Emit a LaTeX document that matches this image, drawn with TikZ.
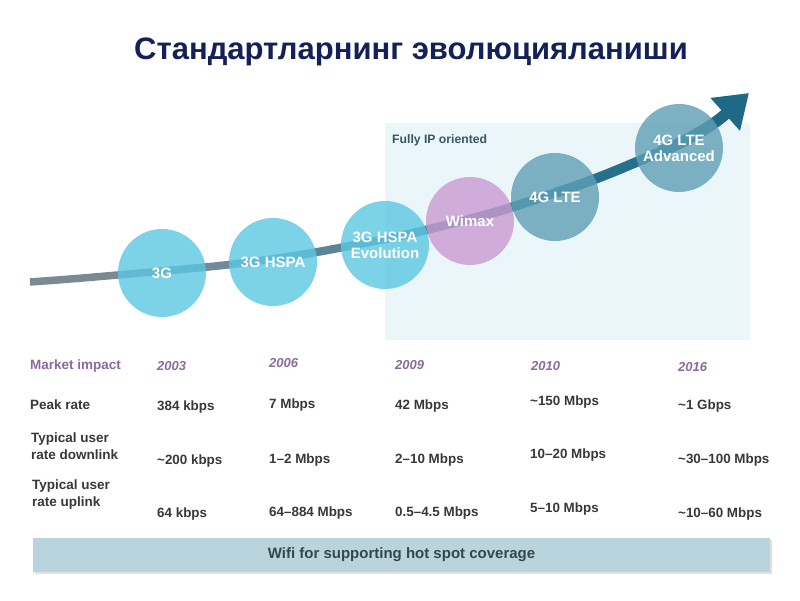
\documentclass[tikz,border=0pt]{standalone}
\usepackage{fontspec}
\setmainfont{Liberation Sans}
\usetikzlibrary{arrows.meta}
\definecolor{titlecol}{HTML}{14205A}
\definecolor{ipbg}{HTML}{EAF6FA}
\definecolor{iptext}{HTML}{3D5560}
\definecolor{c3g}{HTML}{5CC7E2}
\definecolor{cwimax}{HTML}{C99AD2}
\definecolor{c4g}{HTML}{5E9FB5}
\definecolor{purp}{HTML}{8A6C9C}
\definecolor{valcol}{HTML}{383838}
\definecolor{barcol}{HTML}{B9D4DD}
\definecolor{bartext}{HTML}{36464C}
\definecolor{sa}{HTML}{7A8A93}
\definecolor{sb}{HTML}{6F8A98}
\definecolor{sc}{HTML}{5C8697}
\definecolor{sd}{HTML}{4A7F96}
\definecolor{se}{HTML}{357890}
\definecolor{sf}{HTML}{27708B}
\definecolor{sg}{HTML}{1E6986}
\begin{document}
\begin{tikzpicture}[x=1pt,y=1pt,
  titlestyle/.style={font=\fontsize{31}{36}\selectfont\bfseries, text=titlecol, inner sep=0},
  circ/.style={circle, minimum size=88pt, inner sep=0, fill opacity=0.8, text opacity=1, text=white, align=center, font=\fontsize{15}{16}\selectfont\bfseries},
  seg/.style={line cap=butt},
  rowlab/.style={anchor=west, inner sep=0, text=valcol, align=left, font=\fontsize{13.5}{17}\selectfont\bfseries},
  yearlab/.style={anchor=west, inner sep=0, text=purp, font=\fontsize{13}{15}\selectfont\bfseries\itshape},
  val/.style={anchor=west, inner sep=0, text=valcol, font=\fontsize{13.4}{15}\selectfont\bfseries}]
\useasboundingbox (0,0) rectangle (800,600);
\fill[white] (0,0) rectangle (800,600);
\node[titlestyle] (title) at (411,548) {Стандартларнинг эволюцияланиши};
\fill[ipbg] (385,260) rectangle (750,477);
\node[anchor=west, inner sep=0, text=iptext, font=\fontsize{12.2}{14}\selectfont\bfseries] (ip) at (392,460) {Fully IP oriented};
% arrow
\coordinate (a0) at (30,318);
\coordinate (a1) at (163,329);
\coordinate (a2) at (273,341);
\coordinate (a3) at (385,361);
\coordinate (a4) at (470,381);
\coordinate (a5) at (555,407);
\coordinate (a6) at (660,448);
\coordinate (a7) at (749,507);
\draw[seg, sa, line width=7.5] (a0) to[out=4,in=185] (a1);
\draw[seg, sb, line width=7.8] (a1) to[out=5,in=188] (a2);
\draw[seg, sc, line width=8.2] (a2) to[out=8,in=191] (a3);
\draw[seg, sd, line width=8.7] (a3) to[out=11,in=194] (a4);
\draw[seg, se, line width=9.3] (a4) to[out=14,in=198] (a5);
\draw[seg, sf, line width=10] (a5) to[out=18,in=203] (a6);
\draw[sg, line width=11.5, -{Triangle[length=32pt,width=42pt]}] (a6) to[out=23,in=222] (a7);
% circles
\node[circ, fill=c3g] (g3) at (162,327) {3G};
\node[circ, fill=c3g] (hspa) at (273,338) {3G HSPA};
\node[circ, fill=c3g] (evo) at (385,355) {3G HSPA\\Evolution};
\node[circ, fill=cwimax] (wimax) at (470,379) {Wimax};
\node[circ, fill=c4g] (lte) at (555,403) {4G LTE};
\node[circ, fill=c4g] (adv) at (679,452) {4G LTE\\Advanced};
% table
\node[rowlab, text=purp] (mi) at (30,234) {Market impact};
\node[yearlab] (y1) at (157,234) {2003};
\node[yearlab] (y2) at (269,237) {2006};
\node[yearlab] (y3) at (395,235) {2009};
\node[yearlab] (y4) at (531,234) {2010};
\node[yearlab] (y5) at (678,233) {2016};
\node[rowlab] (pr) at (30,195) {Peak rate};
\node[val] (p1) at (157,193) {384 kbps};
\node[val] (p2) at (269,195) {7 Mbps};
\node[val] (p3) at (395,194) {42 Mbps};
\node[val] (p4) at (530,198) {\textasciitilde150 Mbps};
\node[val] (p5) at (678,194) {\textasciitilde1 Gbps};
\node[rowlab] (dl) at (31,154) {Typical user\\rate downlink};
\node[val] (d1) at (157,139) {\textasciitilde200 kbps};
\node[val] (d2) at (269,140) {1–2 Mbps};
\node[val] (d3) at (395,140) {2–10 Mbps};
\node[val] (d4) at (530,145) {10–20 Mbps};
\node[val] (d5) at (678,140) {\textasciitilde30–100 Mbps};
\node[rowlab] (ul) at (32,105) {Typical user\\rate uplink};
\node[val] (u1) at (157,86) {64 kbps};
\node[val] (u2) at (269,87) {64–884 Mbps};
\node[val] (u3) at (395,87) {0.5–4.5 Mbps};
\node[val] (u4) at (530,91) {5–10 Mbps};
\node[val] (u5) at (678,86) {\textasciitilde10–60 Mbps};
% bottom bar
\fill[black!12] (35,26) rectangle (772,60);
\node[fill=barcol, minimum width=737pt, minimum height=34pt, inner sep=0, text=bartext, font=\fontsize{15}{17}\selectfont\bfseries] (wifi) at (401.5,45) {Wifi for supporting hot spot coverage};
\end{tikzpicture}
\end{document}
